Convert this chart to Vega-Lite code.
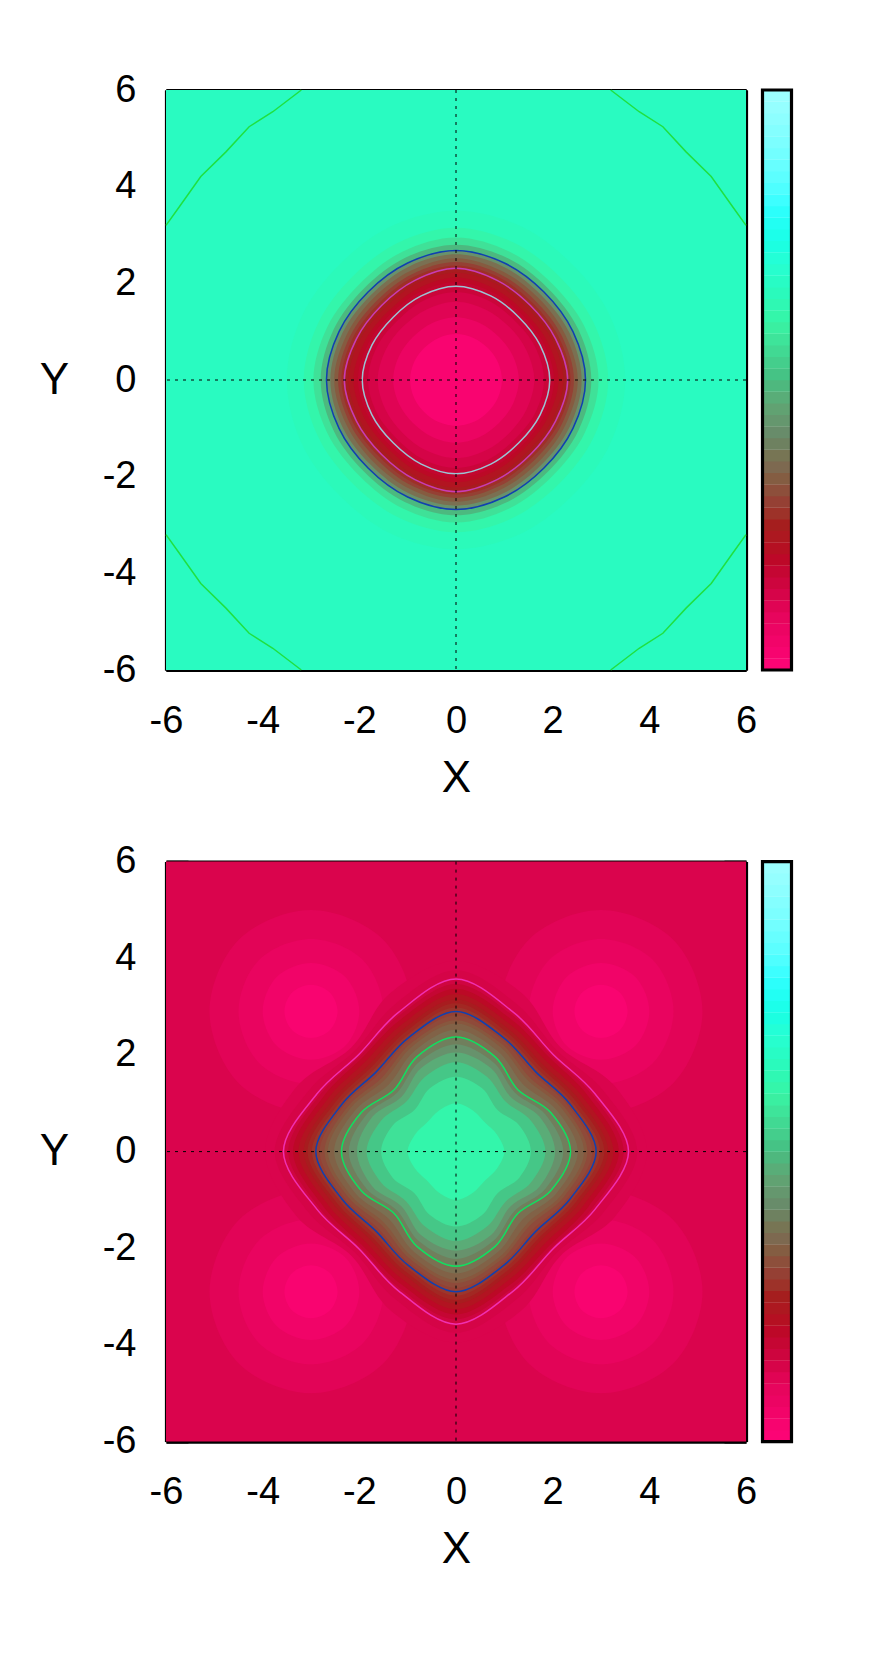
{"$schema":"https://vega.github.io/schema/vega-lite/v6.json","background":"white","padding":{"left":39,"top":71,"right":0,"bottom":0},"config":{"font":"Liberation Sans","view":{"stroke":null},"axis":{"labelFont":"Liberation Sans","titleFont":"Liberation Sans","labelFontSize":38,"titleFontSize":44,"titleFontWeight":"normal","labelColor":"black","titleColor":"black","tickColor":"black","domainColor":"black","tickWidth":2.8,"domainWidth":3.2,"grid":false,"labelFlush":false,"labelOverlap":false,"labelBound":false,"zindex":1}},"datasets":{"p1":[
{"v":0.97,"x":3.5,"y":0},{"v":0.97,"x":3.19,"y":1.32},{"v":0.97,"x":2.4,"y":2.4},{"v":0.97,"x":1.32,"y":3.19},{"v":0.97,"x":0,"y":3.5},{"v":0.97,"x":-1.32,"y":3.19},{"v":0.97,"x":-2.4,"y":2.4},{"v":0.97,"x":-3.19,"y":1.32},{"v":0.97,"x":-3.5,"y":0},{"v":0.97,"x":-3.19,"y":-1.32},{"v":0.97,"x":-2.4,"y":-2.4},{"v":0.97,"x":-1.32,"y":-3.19},{"v":0.97,"x":0,"y":-3.5},{"v":0.97,"x":1.32,"y":-3.19},{"v":0.97,"x":2.4,"y":-2.4},{"v":0.97,"x":3.19,"y":-1.32},
{"v":0.9,"x":3.15,"y":0},{"v":0.9,"x":2.85,"y":1.18},{"v":0.9,"x":2.14,"y":2.14},{"v":0.9,"x":1.18,"y":2.85},{"v":0.9,"x":0,"y":3.15},{"v":0.9,"x":-1.18,"y":2.85},{"v":0.9,"x":-2.14,"y":2.14},{"v":0.9,"x":-2.85,"y":1.18},{"v":0.9,"x":-3.15,"y":0},{"v":0.9,"x":-2.85,"y":-1.18},{"v":0.9,"x":-2.14,"y":-2.14},{"v":0.9,"x":-1.18,"y":-2.85},{"v":0.9,"x":0,"y":-3.15},{"v":0.9,"x":1.18,"y":-2.85},{"v":0.9,"x":2.14,"y":-2.14},{"v":0.9,"x":2.85,"y":-1.18},
{"v":0.8,"x":2.95,"y":0},{"v":0.8,"x":2.66,"y":1.1},{"v":0.8,"x":1.99,"y":1.99},{"v":0.8,"x":1.1,"y":2.66},{"v":0.8,"x":0,"y":2.95},{"v":0.8,"x":-1.1,"y":2.66},{"v":0.8,"x":-1.99,"y":1.99},{"v":0.8,"x":-2.66,"y":1.1},{"v":0.8,"x":-2.95,"y":0},{"v":0.8,"x":-2.66,"y":-1.1},{"v":0.8,"x":-1.99,"y":-1.99},{"v":0.8,"x":-1.1,"y":-2.66},{"v":0.8,"x":0,"y":-2.95},{"v":0.8,"x":1.1,"y":-2.66},{"v":0.8,"x":1.99,"y":-1.99},{"v":0.8,"x":2.66,"y":-1.1},
{"v":0.65,"x":2.8,"y":0},{"v":0.65,"x":2.53,"y":1.05},{"v":0.65,"x":1.9,"y":1.9},{"v":0.65,"x":1.05,"y":2.53},{"v":0.65,"x":0,"y":2.8},{"v":0.65,"x":-1.05,"y":2.53},{"v":0.65,"x":-1.9,"y":1.9},{"v":0.65,"x":-2.53,"y":1.05},{"v":0.65,"x":-2.8,"y":0},{"v":0.65,"x":-2.53,"y":-1.05},{"v":0.65,"x":-1.9,"y":-1.9},{"v":0.65,"x":-1.05,"y":-2.53},{"v":0.65,"x":0,"y":-2.8},{"v":0.65,"x":1.05,"y":-2.53},{"v":0.65,"x":1.9,"y":-1.9},{"v":0.65,"x":2.53,"y":-1.05},
{"v":0.5,"x":2.68,"y":0},{"v":0.5,"x":2.42,"y":1},{"v":0.5,"x":1.82,"y":1.82},{"v":0.5,"x":1,"y":2.42},{"v":0.5,"x":0,"y":2.68},{"v":0.5,"x":-1,"y":2.42},{"v":0.5,"x":-1.82,"y":1.82},{"v":0.5,"x":-2.42,"y":1},{"v":0.5,"x":-2.68,"y":0},{"v":0.5,"x":-2.42,"y":-1},{"v":0.5,"x":-1.82,"y":-1.82},{"v":0.5,"x":-1,"y":-2.42},{"v":0.5,"x":0,"y":-2.68},{"v":0.5,"x":1,"y":-2.42},{"v":0.5,"x":1.82,"y":-1.82},{"v":0.5,"x":2.42,"y":-1},
{"v":0.3,"x":2.6,"y":0},{"v":0.3,"x":2.35,"y":0.97},{"v":0.3,"x":1.76,"y":1.76},{"v":0.3,"x":0.97,"y":2.35},{"v":0.3,"x":0,"y":2.6},{"v":0.3,"x":-0.97,"y":2.35},{"v":0.3,"x":-1.76,"y":1.76},{"v":0.3,"x":-2.35,"y":0.97},{"v":0.3,"x":-2.6,"y":0},{"v":0.3,"x":-2.35,"y":-0.97},{"v":0.3,"x":-1.76,"y":-1.76},{"v":0.3,"x":-0.97,"y":-2.35},{"v":0.3,"x":0,"y":-2.6},{"v":0.3,"x":0.97,"y":-2.35},{"v":0.3,"x":1.76,"y":-1.76},{"v":0.3,"x":2.35,"y":-0.97},
{"v":0.15,"x":2.52,"y":0},{"v":0.15,"x":2.26,"y":0.94},{"v":0.15,"x":1.7,"y":1.7},{"v":0.15,"x":0.94,"y":2.26},{"v":0.15,"x":0,"y":2.52},{"v":0.15,"x":-0.94,"y":2.26},{"v":0.15,"x":-1.7,"y":1.7},{"v":0.15,"x":-2.26,"y":0.94},{"v":0.15,"x":-2.52,"y":0},{"v":0.15,"x":-2.26,"y":-0.94},{"v":0.15,"x":-1.7,"y":-1.7},{"v":0.15,"x":-0.94,"y":-2.26},{"v":0.15,"x":0,"y":-2.52},{"v":0.15,"x":0.94,"y":-2.26},{"v":0.15,"x":1.7,"y":-1.7},{"v":0.15,"x":2.26,"y":-0.94},
{"v":0,"x":2.44,"y":0},{"v":0,"x":2.19,"y":0.91},{"v":0,"x":1.64,"y":1.64},{"v":0,"x":0.91,"y":2.19},{"v":0,"x":0,"y":2.44},{"v":0,"x":-0.91,"y":2.19},{"v":0,"x":-1.64,"y":1.64},{"v":0,"x":-2.19,"y":0.91},{"v":0,"x":-2.44,"y":0},{"v":0,"x":-2.19,"y":-0.91},{"v":0,"x":-1.64,"y":-1.64},{"v":0,"x":-0.91,"y":-2.19},{"v":0,"x":0,"y":-2.44},{"v":0,"x":0.91,"y":-2.19},{"v":0,"x":1.64,"y":-1.64},{"v":0,"x":2.19,"y":-0.91},
{"v":-0.1,"x":2.37,"y":0},{"v":-0.1,"x":2.13,"y":0.88},{"v":-0.1,"x":1.59,"y":1.59},{"v":-0.1,"x":0.88,"y":2.13},{"v":-0.1,"x":0,"y":2.37},{"v":-0.1,"x":-0.88,"y":2.13},{"v":-0.1,"x":-1.59,"y":1.59},{"v":-0.1,"x":-2.13,"y":0.88},{"v":-0.1,"x":-2.37,"y":0},{"v":-0.1,"x":-2.13,"y":-0.88},{"v":-0.1,"x":-1.59,"y":-1.59},{"v":-0.1,"x":-0.88,"y":-2.13},{"v":-0.1,"x":0,"y":-2.37},{"v":-0.1,"x":0.88,"y":-2.13},{"v":-0.1,"x":1.59,"y":-1.59},{"v":-0.1,"x":2.13,"y":-0.88},
{"v":-0.2,"x":2.31,"y":0},{"v":-0.2,"x":2.06,"y":0.85},{"v":-0.2,"x":1.54,"y":1.54},{"v":-0.2,"x":0.85,"y":2.06},{"v":-0.2,"x":0,"y":2.31},{"v":-0.2,"x":-0.85,"y":2.06},{"v":-0.2,"x":-1.54,"y":1.54},{"v":-0.2,"x":-2.06,"y":0.85},{"v":-0.2,"x":-2.31,"y":0},{"v":-0.2,"x":-2.06,"y":-0.85},{"v":-0.2,"x":-1.54,"y":-1.54},{"v":-0.2,"x":-0.85,"y":-2.06},{"v":-0.2,"x":0,"y":-2.31},{"v":-0.2,"x":0.85,"y":-2.06},{"v":-0.2,"x":1.54,"y":-1.54},{"v":-0.2,"x":2.06,"y":-0.85},
{"v":-0.3,"x":2.22,"y":0},{"v":-0.3,"x":1.99,"y":0.82},{"v":-0.3,"x":1.48,"y":1.48},{"v":-0.3,"x":0.82,"y":1.99},{"v":-0.3,"x":0,"y":2.22},{"v":-0.3,"x":-0.82,"y":1.99},{"v":-0.3,"x":-1.48,"y":1.48},{"v":-0.3,"x":-1.99,"y":0.82},{"v":-0.3,"x":-2.22,"y":0},{"v":-0.3,"x":-1.99,"y":-0.82},{"v":-0.3,"x":-1.48,"y":-1.48},{"v":-0.3,"x":-0.82,"y":-1.99},{"v":-0.3,"x":0,"y":-2.22},{"v":-0.3,"x":0.82,"y":-1.99},{"v":-0.3,"x":1.48,"y":-1.48},{"v":-0.3,"x":1.99,"y":-0.82},
{"v":-0.4,"x":2.12,"y":0},{"v":-0.4,"x":1.89,"y":0.79},{"v":-0.4,"x":1.41,"y":1.41},{"v":-0.4,"x":0.79,"y":1.89},{"v":-0.4,"x":0,"y":2.12},{"v":-0.4,"x":-0.79,"y":1.89},{"v":-0.4,"x":-1.41,"y":1.41},{"v":-0.4,"x":-1.89,"y":0.79},{"v":-0.4,"x":-2.12,"y":0},{"v":-0.4,"x":-1.89,"y":-0.79},{"v":-0.4,"x":-1.41,"y":-1.41},{"v":-0.4,"x":-0.79,"y":-1.89},{"v":-0.4,"x":0,"y":-2.12},{"v":-0.4,"x":0.79,"y":-1.89},{"v":-0.4,"x":1.41,"y":-1.41},{"v":-0.4,"x":1.89,"y":-0.79},
{"v":-0.47,"x":2.03,"y":0},{"v":-0.47,"x":1.82,"y":0.75},{"v":-0.47,"x":1.36,"y":1.36},{"v":-0.47,"x":0.75,"y":1.82},{"v":-0.47,"x":0,"y":2.03},{"v":-0.47,"x":-0.75,"y":1.82},{"v":-0.47,"x":-1.36,"y":1.36},{"v":-0.47,"x":-1.82,"y":0.75},{"v":-0.47,"x":-2.03,"y":0},{"v":-0.47,"x":-1.82,"y":-0.75},{"v":-0.47,"x":-1.36,"y":-1.36},{"v":-0.47,"x":-0.75,"y":-1.82},{"v":-0.47,"x":0,"y":-2.03},{"v":-0.47,"x":0.75,"y":-1.82},{"v":-0.47,"x":1.36,"y":-1.36},{"v":-0.47,"x":1.82,"y":-0.75},
{"v":-0.55,"x":1.94,"y":0},{"v":-0.55,"x":1.74,"y":0.72},{"v":-0.55,"x":1.3,"y":1.3},{"v":-0.55,"x":0.72,"y":1.74},{"v":-0.55,"x":0,"y":1.94},{"v":-0.55,"x":-0.72,"y":1.74},{"v":-0.55,"x":-1.3,"y":1.3},{"v":-0.55,"x":-1.74,"y":0.72},{"v":-0.55,"x":-1.94,"y":0},{"v":-0.55,"x":-1.74,"y":-0.72},{"v":-0.55,"x":-1.3,"y":-1.3},{"v":-0.55,"x":-0.72,"y":-1.74},{"v":-0.55,"x":0,"y":-1.94},{"v":-0.55,"x":0.72,"y":-1.74},{"v":-0.55,"x":1.3,"y":-1.3},{"v":-0.55,"x":1.74,"y":-0.72},
{"v":-0.65,"x":1.82,"y":0},{"v":-0.65,"x":1.64,"y":0.68},{"v":-0.65,"x":1.22,"y":1.22},{"v":-0.65,"x":0.68,"y":1.64},{"v":-0.65,"x":0,"y":1.82},{"v":-0.65,"x":-0.68,"y":1.64},{"v":-0.65,"x":-1.22,"y":1.22},{"v":-0.65,"x":-1.64,"y":0.68},{"v":-0.65,"x":-1.82,"y":0},{"v":-0.65,"x":-1.64,"y":-0.68},{"v":-0.65,"x":-1.22,"y":-1.22},{"v":-0.65,"x":-0.68,"y":-1.64},{"v":-0.65,"x":0,"y":-1.82},{"v":-0.65,"x":0.68,"y":-1.64},{"v":-0.65,"x":1.22,"y":-1.22},{"v":-0.65,"x":1.64,"y":-0.68},
{"v":-0.75,"x":1.62,"y":0},{"v":-0.75,"x":1.46,"y":0.61},{"v":-0.75,"x":1.1,"y":1.1},{"v":-0.75,"x":0.61,"y":1.46},{"v":-0.75,"x":0,"y":1.62},{"v":-0.75,"x":-0.61,"y":1.46},{"v":-0.75,"x":-1.1,"y":1.1},{"v":-0.75,"x":-1.46,"y":0.61},{"v":-0.75,"x":-1.62,"y":0},{"v":-0.75,"x":-1.46,"y":-0.61},{"v":-0.75,"x":-1.1,"y":-1.1},{"v":-0.75,"x":-0.61,"y":-1.46},{"v":-0.75,"x":0,"y":-1.62},{"v":-0.75,"x":0.61,"y":-1.46},{"v":-0.75,"x":1.1,"y":-1.1},{"v":-0.75,"x":1.46,"y":-0.61},
{"v":-0.85,"x":1.3,"y":0},{"v":-0.85,"x":1.18,"y":0.49},{"v":-0.85,"x":0.89,"y":0.89},{"v":-0.85,"x":0.49,"y":1.18},{"v":-0.85,"x":0,"y":1.3},{"v":-0.85,"x":-0.49,"y":1.18},{"v":-0.85,"x":-0.89,"y":0.89},{"v":-0.85,"x":-1.18,"y":0.49},{"v":-0.85,"x":-1.3,"y":0},{"v":-0.85,"x":-1.18,"y":-0.49},{"v":-0.85,"x":-0.89,"y":-0.89},{"v":-0.85,"x":-0.49,"y":-1.18},{"v":-0.85,"x":0,"y":-1.3},{"v":-0.85,"x":0.49,"y":-1.18},{"v":-0.85,"x":0.89,"y":-0.89},{"v":-0.85,"x":1.18,"y":-0.49},
{"v":-0.95,"x":0.95,"y":0},{"v":-0.95,"x":0.87,"y":0.36},{"v":-0.95,"x":0.66,"y":0.66},{"v":-0.95,"x":0.36,"y":0.87},{"v":-0.95,"x":0,"y":0.95},{"v":-0.95,"x":-0.36,"y":0.87},{"v":-0.95,"x":-0.66,"y":0.66},{"v":-0.95,"x":-0.87,"y":0.36},{"v":-0.95,"x":-0.95,"y":0},{"v":-0.95,"x":-0.87,"y":-0.36},{"v":-0.95,"x":-0.66,"y":-0.66},{"v":-0.95,"x":-0.36,"y":-0.87},{"v":-0.95,"x":0,"y":-0.95},{"v":-0.95,"x":0.36,"y":-0.87},{"v":-0.95,"x":0.66,"y":-0.66},{"v":-0.95,"x":0.87,"y":-0.36}
],"p2":[
{"v":-0.77,"q":1,"x":5.1,"y":2.9},{"v":-0.77,"q":1,"x":4.49,"y":4.39},{"v":-0.77,"q":1,"x":3,"y":5},{"v":-0.77,"q":1,"x":1.51,"y":4.39},{"v":-0.77,"q":1,"x":0.9,"y":2.9},{"v":-0.77,"q":1,"x":1.51,"y":1.41},{"v":-0.77,"q":1,"x":3,"y":0.8},{"v":-0.77,"q":1,"x":4.49,"y":1.41},
{"v":-0.77,"q":2,"x":-5.1,"y":2.9},{"v":-0.77,"q":2,"x":-4.49,"y":4.39},{"v":-0.77,"q":2,"x":-3,"y":5},{"v":-0.77,"q":2,"x":-1.51,"y":4.39},{"v":-0.77,"q":2,"x":-0.9,"y":2.9},{"v":-0.77,"q":2,"x":-1.51,"y":1.41},{"v":-0.77,"q":2,"x":-3,"y":0.8},{"v":-0.77,"q":2,"x":-4.49,"y":1.41},
{"v":-0.77,"q":3,"x":-5.1,"y":-2.9},{"v":-0.77,"q":3,"x":-4.49,"y":-4.39},{"v":-0.77,"q":3,"x":-3,"y":-5},{"v":-0.77,"q":3,"x":-1.51,"y":-4.39},{"v":-0.77,"q":3,"x":-0.9,"y":-2.9},{"v":-0.77,"q":3,"x":-1.51,"y":-1.41},{"v":-0.77,"q":3,"x":-3,"y":-0.8},{"v":-0.77,"q":3,"x":-4.49,"y":-1.41},
{"v":-0.77,"q":4,"x":5.1,"y":-2.9},{"v":-0.77,"q":4,"x":4.49,"y":-4.39},{"v":-0.77,"q":4,"x":3,"y":-5},{"v":-0.77,"q":4,"x":1.51,"y":-4.39},{"v":-0.77,"q":4,"x":0.9,"y":-2.9},{"v":-0.77,"q":4,"x":1.51,"y":-1.41},{"v":-0.77,"q":4,"x":3,"y":-0.8},{"v":-0.77,"q":4,"x":4.49,"y":-1.41},
{"v":-0.83,"q":1,"x":4.5,"y":2.9},{"v":-0.83,"q":1,"x":4.07,"y":3.97},{"v":-0.83,"q":1,"x":3,"y":4.4},{"v":-0.83,"q":1,"x":1.93,"y":3.97},{"v":-0.83,"q":1,"x":1.5,"y":2.9},{"v":-0.83,"q":1,"x":1.93,"y":1.83},{"v":-0.83,"q":1,"x":3,"y":1.4},{"v":-0.83,"q":1,"x":4.07,"y":1.83},
{"v":-0.83,"q":2,"x":-4.5,"y":2.9},{"v":-0.83,"q":2,"x":-4.07,"y":3.97},{"v":-0.83,"q":2,"x":-3,"y":4.4},{"v":-0.83,"q":2,"x":-1.93,"y":3.97},{"v":-0.83,"q":2,"x":-1.5,"y":2.9},{"v":-0.83,"q":2,"x":-1.93,"y":1.83},{"v":-0.83,"q":2,"x":-3,"y":1.4},{"v":-0.83,"q":2,"x":-4.07,"y":1.83},
{"v":-0.83,"q":3,"x":-4.5,"y":-2.9},{"v":-0.83,"q":3,"x":-4.07,"y":-3.97},{"v":-0.83,"q":3,"x":-3,"y":-4.4},{"v":-0.83,"q":3,"x":-1.93,"y":-3.97},{"v":-0.83,"q":3,"x":-1.5,"y":-2.9},{"v":-0.83,"q":3,"x":-1.93,"y":-1.83},{"v":-0.83,"q":3,"x":-3,"y":-1.4},{"v":-0.83,"q":3,"x":-4.07,"y":-1.83},
{"v":-0.83,"q":4,"x":4.5,"y":-2.9},{"v":-0.83,"q":4,"x":4.07,"y":-3.97},{"v":-0.83,"q":4,"x":3,"y":-4.4},{"v":-0.83,"q":4,"x":1.93,"y":-3.97},{"v":-0.83,"q":4,"x":1.5,"y":-2.9},{"v":-0.83,"q":4,"x":1.93,"y":-1.83},{"v":-0.83,"q":4,"x":3,"y":-1.4},{"v":-0.83,"q":4,"x":4.07,"y":-1.83},
{"v":-0.89,"q":1,"x":4,"y":2.9},{"v":-0.89,"q":1,"x":3.71,"y":3.61},{"v":-0.89,"q":1,"x":3,"y":3.9},{"v":-0.89,"q":1,"x":2.29,"y":3.61},{"v":-0.89,"q":1,"x":2,"y":2.9},{"v":-0.89,"q":1,"x":2.29,"y":2.19},{"v":-0.89,"q":1,"x":3,"y":1.9},{"v":-0.89,"q":1,"x":3.71,"y":2.19},
{"v":-0.89,"q":2,"x":-4,"y":2.9},{"v":-0.89,"q":2,"x":-3.71,"y":3.61},{"v":-0.89,"q":2,"x":-3,"y":3.9},{"v":-0.89,"q":2,"x":-2.29,"y":3.61},{"v":-0.89,"q":2,"x":-2,"y":2.9},{"v":-0.89,"q":2,"x":-2.29,"y":2.19},{"v":-0.89,"q":2,"x":-3,"y":1.9},{"v":-0.89,"q":2,"x":-3.71,"y":2.19},
{"v":-0.89,"q":3,"x":-4,"y":-2.9},{"v":-0.89,"q":3,"x":-3.71,"y":-3.61},{"v":-0.89,"q":3,"x":-3,"y":-3.9},{"v":-0.89,"q":3,"x":-2.29,"y":-3.61},{"v":-0.89,"q":3,"x":-2,"y":-2.9},{"v":-0.89,"q":3,"x":-2.29,"y":-2.19},{"v":-0.89,"q":3,"x":-3,"y":-1.9},{"v":-0.89,"q":3,"x":-3.71,"y":-2.19},
{"v":-0.89,"q":4,"x":4,"y":-2.9},{"v":-0.89,"q":4,"x":3.71,"y":-3.61},{"v":-0.89,"q":4,"x":3,"y":-3.9},{"v":-0.89,"q":4,"x":2.29,"y":-3.61},{"v":-0.89,"q":4,"x":2,"y":-2.9},{"v":-0.89,"q":4,"x":2.29,"y":-2.19},{"v":-0.89,"q":4,"x":3,"y":-1.9},{"v":-0.89,"q":4,"x":3.71,"y":-2.19},
{"v":-0.95,"q":1,"x":3.55,"y":2.9},{"v":-0.95,"q":1,"x":3.39,"y":3.29},{"v":-0.95,"q":1,"x":3,"y":3.45},{"v":-0.95,"q":1,"x":2.61,"y":3.29},{"v":-0.95,"q":1,"x":2.45,"y":2.9},{"v":-0.95,"q":1,"x":2.61,"y":2.51},{"v":-0.95,"q":1,"x":3,"y":2.35},{"v":-0.95,"q":1,"x":3.39,"y":2.51},
{"v":-0.95,"q":2,"x":-3.55,"y":2.9},{"v":-0.95,"q":2,"x":-3.39,"y":3.29},{"v":-0.95,"q":2,"x":-3,"y":3.45},{"v":-0.95,"q":2,"x":-2.61,"y":3.29},{"v":-0.95,"q":2,"x":-2.45,"y":2.9},{"v":-0.95,"q":2,"x":-2.61,"y":2.51},{"v":-0.95,"q":2,"x":-3,"y":2.35},{"v":-0.95,"q":2,"x":-3.39,"y":2.51},
{"v":-0.95,"q":3,"x":-3.55,"y":-2.9},{"v":-0.95,"q":3,"x":-3.39,"y":-3.29},{"v":-0.95,"q":3,"x":-3,"y":-3.45},{"v":-0.95,"q":3,"x":-2.61,"y":-3.29},{"v":-0.95,"q":3,"x":-2.45,"y":-2.9},{"v":-0.95,"q":3,"x":-2.61,"y":-2.51},{"v":-0.95,"q":3,"x":-3,"y":-2.35},{"v":-0.95,"q":3,"x":-3.39,"y":-2.51},
{"v":-0.95,"q":4,"x":3.55,"y":-2.9},{"v":-0.95,"q":4,"x":3.39,"y":-3.29},{"v":-0.95,"q":4,"x":3,"y":-3.45},{"v":-0.95,"q":4,"x":2.61,"y":-3.29},{"v":-0.95,"q":4,"x":2.45,"y":-2.9},{"v":-0.95,"q":4,"x":2.61,"y":-2.51},{"v":-0.95,"q":4,"x":3,"y":-2.35},{"v":-0.95,"q":4,"x":3.39,"y":-2.51},
{"v":-0.7,"x":3.95,"y":0},{"v":-0.7,"x":3.28,"y":1.36},{"v":-0.7,"x":2.16,"y":2.16},{"v":-0.7,"x":1.36,"y":3.28},{"v":-0.7,"x":0,"y":3.95},{"v":-0.7,"x":-1.36,"y":3.28},{"v":-0.7,"x":-2.16,"y":2.16},{"v":-0.7,"x":-3.28,"y":1.36},{"v":-0.7,"x":-3.95,"y":0},{"v":-0.7,"x":-3.28,"y":-1.36},{"v":-0.7,"x":-2.16,"y":-2.16},{"v":-0.7,"x":-1.36,"y":-3.28},{"v":-0.7,"x":0,"y":-3.95},{"v":-0.7,"x":1.36,"y":-3.28},{"v":-0.7,"x":2.16,"y":-2.16},{"v":-0.7,"x":3.28,"y":-1.36},
{"v":-0.65,"x":3.75,"y":0},{"v":-0.65,"x":3.05,"y":1.26},{"v":-0.65,"x":2.09,"y":2.09},{"v":-0.65,"x":1.26,"y":3.05},{"v":-0.65,"x":0,"y":3.75},{"v":-0.65,"x":-1.26,"y":3.05},{"v":-0.65,"x":-2.09,"y":2.09},{"v":-0.65,"x":-3.05,"y":1.26},{"v":-0.65,"x":-3.75,"y":0},{"v":-0.65,"x":-3.05,"y":-1.26},{"v":-0.65,"x":-2.09,"y":-2.09},{"v":-0.65,"x":-1.26,"y":-3.05},{"v":-0.65,"x":0,"y":-3.75},{"v":-0.65,"x":1.26,"y":-3.05},{"v":-0.65,"x":2.09,"y":-2.09},{"v":-0.65,"x":3.05,"y":-1.26},
{"v":-0.6,"x":3.57,"y":0},{"v":-0.6,"x":2.88,"y":1.19},{"v":-0.6,"x":2.01,"y":2.01},{"v":-0.6,"x":1.19,"y":2.88},{"v":-0.6,"x":0,"y":3.57},{"v":-0.6,"x":-1.19,"y":2.88},{"v":-0.6,"x":-2.01,"y":2.01},{"v":-0.6,"x":-2.88,"y":1.19},{"v":-0.6,"x":-3.57,"y":0},{"v":-0.6,"x":-2.88,"y":-1.19},{"v":-0.6,"x":-2.01,"y":-2.01},{"v":-0.6,"x":-1.19,"y":-2.88},{"v":-0.6,"x":0,"y":-3.57},{"v":-0.6,"x":1.19,"y":-2.88},{"v":-0.6,"x":2.01,"y":-2.01},{"v":-0.6,"x":2.88,"y":-1.19},
{"v":-0.5,"x":3.47,"y":0},{"v":-0.5,"x":2.82,"y":1.17},{"v":-0.5,"x":1.98,"y":1.98},{"v":-0.5,"x":1.17,"y":2.82},{"v":-0.5,"x":0,"y":3.47},{"v":-0.5,"x":-1.17,"y":2.82},{"v":-0.5,"x":-1.98,"y":1.98},{"v":-0.5,"x":-2.82,"y":1.17},{"v":-0.5,"x":-3.47,"y":0},{"v":-0.5,"x":-2.82,"y":-1.17},{"v":-0.5,"x":-1.98,"y":-1.98},{"v":-0.5,"x":-1.17,"y":-2.82},{"v":-0.5,"x":0,"y":-3.47},{"v":-0.5,"x":1.17,"y":-2.82},{"v":-0.5,"x":1.98,"y":-1.98},{"v":-0.5,"x":2.82,"y":-1.17},
{"v":-0.4,"x":3.37,"y":0},{"v":-0.4,"x":2.74,"y":1.14},{"v":-0.4,"x":1.94,"y":1.94},{"v":-0.4,"x":1.14,"y":2.74},{"v":-0.4,"x":0,"y":3.37},{"v":-0.4,"x":-1.14,"y":2.74},{"v":-0.4,"x":-1.94,"y":1.94},{"v":-0.4,"x":-2.74,"y":1.14},{"v":-0.4,"x":-3.37,"y":0},{"v":-0.4,"x":-2.74,"y":-1.14},{"v":-0.4,"x":-1.94,"y":-1.94},{"v":-0.4,"x":-1.14,"y":-2.74},{"v":-0.4,"x":0,"y":-3.37},{"v":-0.4,"x":1.14,"y":-2.74},{"v":-0.4,"x":1.94,"y":-1.94},{"v":-0.4,"x":2.74,"y":-1.14},
{"v":-0.3,"x":3.26,"y":0},{"v":-0.3,"x":2.65,"y":1.1},{"v":-0.3,"x":1.87,"y":1.87},{"v":-0.3,"x":1.1,"y":2.65},{"v":-0.3,"x":0,"y":3.26},{"v":-0.3,"x":-1.1,"y":2.65},{"v":-0.3,"x":-1.87,"y":1.87},{"v":-0.3,"x":-2.65,"y":1.1},{"v":-0.3,"x":-3.26,"y":0},{"v":-0.3,"x":-2.65,"y":-1.1},{"v":-0.3,"x":-1.87,"y":-1.87},{"v":-0.3,"x":-1.1,"y":-2.65},{"v":-0.3,"x":0,"y":-3.26},{"v":-0.3,"x":1.1,"y":-2.65},{"v":-0.3,"x":1.87,"y":-1.87},{"v":-0.3,"x":2.65,"y":-1.1},
{"v":-0.2,"x":3.15,"y":0},{"v":-0.2,"x":2.56,"y":1.06},{"v":-0.2,"x":1.8,"y":1.8},{"v":-0.2,"x":1.06,"y":2.56},{"v":-0.2,"x":0,"y":3.15},{"v":-0.2,"x":-1.06,"y":2.56},{"v":-0.2,"x":-1.8,"y":1.8},{"v":-0.2,"x":-2.56,"y":1.06},{"v":-0.2,"x":-3.15,"y":0},{"v":-0.2,"x":-2.56,"y":-1.06},{"v":-0.2,"x":-1.8,"y":-1.8},{"v":-0.2,"x":-1.06,"y":-2.56},{"v":-0.2,"x":0,"y":-3.15},{"v":-0.2,"x":1.06,"y":-2.56},{"v":-0.2,"x":1.8,"y":-1.8},{"v":-0.2,"x":2.56,"y":-1.06},
{"v":-0.13,"x":3.07,"y":0},{"v":-0.13,"x":2.49,"y":1.03},{"v":-0.13,"x":1.75,"y":1.75},{"v":-0.13,"x":1.03,"y":2.49},{"v":-0.13,"x":0,"y":3.07},{"v":-0.13,"x":-1.03,"y":2.49},{"v":-0.13,"x":-1.75,"y":1.75},{"v":-0.13,"x":-2.49,"y":1.03},{"v":-0.13,"x":-3.07,"y":0},{"v":-0.13,"x":-2.49,"y":-1.03},{"v":-0.13,"x":-1.75,"y":-1.75},{"v":-0.13,"x":-1.03,"y":-2.49},{"v":-0.13,"x":0,"y":-3.07},{"v":-0.13,"x":1.03,"y":-2.49},{"v":-0.13,"x":1.75,"y":-1.75},{"v":-0.13,"x":2.49,"y":-1.03},
{"v":-0.06,"x":2.98,"y":0},{"v":-0.06,"x":2.42,"y":1},{"v":-0.06,"x":1.7,"y":1.7},{"v":-0.06,"x":1,"y":2.42},{"v":-0.06,"x":0,"y":2.98},{"v":-0.06,"x":-1,"y":2.42},{"v":-0.06,"x":-1.7,"y":1.7},{"v":-0.06,"x":-2.42,"y":1},{"v":-0.06,"x":-2.98,"y":0},{"v":-0.06,"x":-2.42,"y":-1},{"v":-0.06,"x":-1.7,"y":-1.7},{"v":-0.06,"x":-1,"y":-2.42},{"v":-0.06,"x":0,"y":-2.98},{"v":-0.06,"x":1,"y":-2.42},{"v":-0.06,"x":1.7,"y":-1.7},{"v":-0.06,"x":2.42,"y":-1},
{"v":0,"x":2.9,"y":0},{"v":0,"x":2.36,"y":0.98},{"v":0,"x":1.65,"y":1.65},{"v":0,"x":0.98,"y":2.36},{"v":0,"x":0,"y":2.9},{"v":0,"x":-0.98,"y":2.36},{"v":0,"x":-1.65,"y":1.65},{"v":0,"x":-2.36,"y":0.98},{"v":0,"x":-2.9,"y":0},{"v":0,"x":-2.36,"y":-0.98},{"v":0,"x":-1.65,"y":-1.65},{"v":0,"x":-0.98,"y":-2.36},{"v":0,"x":0,"y":-2.9},{"v":0,"x":0.98,"y":-2.36},{"v":0,"x":1.65,"y":-1.65},{"v":0,"x":2.36,"y":-0.98},
{"v":0.06,"x":2.82,"y":0},{"v":0.06,"x":2.31,"y":0.96},{"v":0.06,"x":1.6,"y":1.6},{"v":0.06,"x":0.96,"y":2.31},{"v":0.06,"x":0,"y":2.82},{"v":0.06,"x":-0.96,"y":2.31},{"v":0.06,"x":-1.6,"y":1.6},{"v":0.06,"x":-2.31,"y":0.96},{"v":0.06,"x":-2.82,"y":0},{"v":0.06,"x":-2.31,"y":-0.96},{"v":0.06,"x":-1.6,"y":-1.6},{"v":0.06,"x":-0.96,"y":-2.31},{"v":0.06,"x":0,"y":-2.82},{"v":0.06,"x":0.96,"y":-2.31},{"v":0.06,"x":1.6,"y":-1.6},{"v":0.06,"x":2.31,"y":-0.96},
{"v":0.13,"x":2.72,"y":0},{"v":0.13,"x":2.24,"y":0.93},{"v":0.13,"x":1.53,"y":1.53},{"v":0.13,"x":0.93,"y":2.24},{"v":0.13,"x":0,"y":2.72},{"v":0.13,"x":-0.93,"y":2.24},{"v":0.13,"x":-1.53,"y":1.53},{"v":0.13,"x":-2.24,"y":0.93},{"v":0.13,"x":-2.72,"y":0},{"v":0.13,"x":-2.24,"y":-0.93},{"v":0.13,"x":-1.53,"y":-1.53},{"v":0.13,"x":-0.93,"y":-2.24},{"v":0.13,"x":0,"y":-2.72},{"v":0.13,"x":0.93,"y":-2.24},{"v":0.13,"x":1.53,"y":-1.53},{"v":0.13,"x":2.24,"y":-0.93},
{"v":0.2,"x":2.65,"y":0},{"v":0.2,"x":2.18,"y":0.9},{"v":0.2,"x":1.48,"y":1.48},{"v":0.2,"x":0.9,"y":2.18},{"v":0.2,"x":0,"y":2.65},{"v":0.2,"x":-0.9,"y":2.18},{"v":0.2,"x":-1.48,"y":1.48},{"v":0.2,"x":-2.18,"y":0.9},{"v":0.2,"x":-2.65,"y":0},{"v":0.2,"x":-2.18,"y":-0.9},{"v":0.2,"x":-1.48,"y":-1.48},{"v":0.2,"x":-0.9,"y":-2.18},{"v":0.2,"x":0,"y":-2.65},{"v":0.2,"x":0.9,"y":-2.18},{"v":0.2,"x":1.48,"y":-1.48},{"v":0.2,"x":2.18,"y":-0.9},
{"v":0.3,"x":2.52,"y":0},{"v":0.3,"x":2.08,"y":0.86},{"v":0.3,"x":1.39,"y":1.39},{"v":0.3,"x":0.86,"y":2.08},{"v":0.3,"x":0,"y":2.52},{"v":0.3,"x":-0.86,"y":2.08},{"v":0.3,"x":-1.39,"y":1.39},{"v":0.3,"x":-2.08,"y":0.86},{"v":0.3,"x":-2.52,"y":0},{"v":0.3,"x":-2.08,"y":-0.86},{"v":0.3,"x":-1.39,"y":-1.39},{"v":0.3,"x":-0.86,"y":-2.08},{"v":0.3,"x":0,"y":-2.52},{"v":0.3,"x":0.86,"y":-2.08},{"v":0.3,"x":1.39,"y":-1.39},{"v":0.3,"x":2.08,"y":-0.86},
{"v":0.4,"x":2.37,"y":0},{"v":0.4,"x":1.96,"y":0.81},{"v":0.4,"x":1.28,"y":1.28},{"v":0.4,"x":0.81,"y":1.96},{"v":0.4,"x":0,"y":2.37},{"v":0.4,"x":-0.81,"y":1.96},{"v":0.4,"x":-1.28,"y":1.28},{"v":0.4,"x":-1.96,"y":0.81},{"v":0.4,"x":-2.37,"y":0},{"v":0.4,"x":-1.96,"y":-0.81},{"v":0.4,"x":-1.28,"y":-1.28},{"v":0.4,"x":-0.81,"y":-1.96},{"v":0.4,"x":0,"y":-2.37},{"v":0.4,"x":0.81,"y":-1.96},{"v":0.4,"x":1.28,"y":-1.28},{"v":0.4,"x":1.96,"y":-0.81},
{"v":0.5,"x":2.22,"y":0},{"v":0.5,"x":1.85,"y":0.77},{"v":0.5,"x":1.22,"y":1.22},{"v":0.5,"x":0.77,"y":1.85},{"v":0.5,"x":0,"y":2.22},{"v":0.5,"x":-0.77,"y":1.85},{"v":0.5,"x":-1.22,"y":1.22},{"v":0.5,"x":-1.85,"y":0.77},{"v":0.5,"x":-2.22,"y":0},{"v":0.5,"x":-1.85,"y":-0.77},{"v":0.5,"x":-1.22,"y":-1.22},{"v":0.5,"x":-0.77,"y":-1.85},{"v":0.5,"x":0,"y":-2.22},{"v":0.5,"x":0.77,"y":-1.85},{"v":0.5,"x":1.22,"y":-1.22},{"v":0.5,"x":1.85,"y":-0.77},
{"v":0.6,"x":2.05,"y":0},{"v":0.6,"x":1.73,"y":0.72},{"v":0.6,"x":1.13,"y":1.13},{"v":0.6,"x":0.72,"y":1.73},{"v":0.6,"x":0,"y":2.05},{"v":0.6,"x":-0.72,"y":1.73},{"v":0.6,"x":-1.13,"y":1.13},{"v":0.6,"x":-1.73,"y":0.72},{"v":0.6,"x":-2.05,"y":0},{"v":0.6,"x":-1.73,"y":-0.72},{"v":0.6,"x":-1.13,"y":-1.13},{"v":0.6,"x":-0.72,"y":-1.73},{"v":0.6,"x":0,"y":-2.05},{"v":0.6,"x":0.72,"y":-1.73},{"v":0.6,"x":1.13,"y":-1.13},{"v":0.6,"x":1.73,"y":-0.72},
{"v":0.7,"x":1.85,"y":0},{"v":0.7,"x":1.55,"y":0.64},{"v":0.7,"x":1.03,"y":1.03},{"v":0.7,"x":0.64,"y":1.55},{"v":0.7,"x":0,"y":1.85},{"v":0.7,"x":-0.64,"y":1.55},{"v":0.7,"x":-1.03,"y":1.03},{"v":0.7,"x":-1.55,"y":0.64},{"v":0.7,"x":-1.85,"y":0},{"v":0.7,"x":-1.55,"y":-0.64},{"v":0.7,"x":-1.03,"y":-1.03},{"v":0.7,"x":-0.64,"y":-1.55},{"v":0.7,"x":0,"y":-1.85},{"v":0.7,"x":0.64,"y":-1.55},{"v":0.7,"x":1.03,"y":-1.03},{"v":0.7,"x":1.55,"y":-0.64},
{"v":0.8,"x":1.55,"y":0},{"v":0.8,"x":1.31,"y":0.54},{"v":0.8,"x":0.86,"y":0.86},{"v":0.8,"x":0.54,"y":1.31},{"v":0.8,"x":0,"y":1.55},{"v":0.8,"x":-0.54,"y":1.31},{"v":0.8,"x":-0.86,"y":0.86},{"v":0.8,"x":-1.31,"y":0.54},{"v":0.8,"x":-1.55,"y":0},{"v":0.8,"x":-1.31,"y":-0.54},{"v":0.8,"x":-0.86,"y":-0.86},{"v":0.8,"x":-0.54,"y":-1.31},{"v":0.8,"x":0,"y":-1.55},{"v":0.8,"x":0.54,"y":-1.31},{"v":0.8,"x":0.86,"y":-0.86},{"v":0.8,"x":1.31,"y":-0.54},
{"v":0.9,"x":1,"y":0},{"v":0.9,"x":0.85,"y":0.35},{"v":0.9,"x":0.6,"y":0.6},{"v":0.9,"x":0.35,"y":0.85},{"v":0.9,"x":0,"y":1},{"v":0.9,"x":-0.35,"y":0.85},{"v":0.9,"x":-0.6,"y":0.6},{"v":0.9,"x":-0.85,"y":0.35},{"v":0.9,"x":-1,"y":0},{"v":0.9,"x":-0.85,"y":-0.35},{"v":0.9,"x":-0.6,"y":-0.6},{"v":0.9,"x":-0.35,"y":-0.85},{"v":0.9,"x":0,"y":-1},{"v":0.9,"x":0.35,"y":-0.85},{"v":0.9,"x":0.6,"y":-0.6},{"v":0.9,"x":0.85,"y":-0.35}
],"corners":[
{"s":1,"x":-6,"y":3.2},{"s":1,"x":-5.72,"y":3.59},{"s":1,"x":-5.28,"y":4.21},{"s":1,"x":-4.76,"y":4.72},{"s":1,"x":-4.28,"y":5.24},{"s":1,"x":-3.79,"y":5.55},{"s":1,"x":-3.2,"y":6},
{"s":2,"x":3.2,"y":6},{"s":2,"x":3.79,"y":5.55},{"s":2,"x":4.28,"y":5.24},{"s":2,"x":4.76,"y":4.72},{"s":2,"x":5.28,"y":4.21},{"s":2,"x":5.72,"y":3.59},{"s":2,"x":6,"y":3.2},
{"s":3,"x":-6,"y":-3.2},{"s":3,"x":-5.72,"y":-3.59},{"s":3,"x":-5.28,"y":-4.21},{"s":3,"x":-4.76,"y":-4.72},{"s":3,"x":-4.28,"y":-5.24},{"s":3,"x":-3.79,"y":-5.55},{"s":3,"x":-3.2,"y":-6},
{"s":4,"x":3.2,"y":-6},{"s":4,"x":3.79,"y":-5.55},{"s":4,"x":4.28,"y":-5.24},{"s":4,"x":4.76,"y":-4.72},{"s":4,"x":5.28,"y":-4.21},{"s":4,"x":5.72,"y":-3.59},{"s":4,"x":6,"y":-3.2}
],"bar1":[{"v":-0.975},{"v":-0.925},{"v":-0.875},{"v":-0.825},{"v":-0.775},{"v":-0.725},{"v":-0.675},{"v":-0.625},{"v":-0.575},{"v":-0.525},{"v":-0.475},{"v":-0.425},{"v":-0.375},{"v":-0.325},{"v":-0.275},{"v":-0.225},{"v":-0.175},{"v":-0.125},{"v":-0.075},{"v":-0.025},{"v":0.025},{"v":0.075},{"v":0.125},{"v":0.175},{"v":0.225},{"v":0.275},{"v":0.325},{"v":0.375},{"v":0.425},{"v":0.475},{"v":0.525},{"v":0.575},{"v":0.625},{"v":0.675},{"v":0.725},{"v":0.775},{"v":0.825},{"v":0.875},{"v":0.925},{"v":0.975},{"v":1.025},{"v":1.075},{"v":1.125},{"v":1.175},{"v":1.225},{"v":1.275},{"v":1.325},{"v":1.375},{"v":1.425},{"v":1.475}],"bar2":[{"v":-0.98},{"v":-0.94},{"v":-0.9},{"v":-0.86},{"v":-0.82},{"v":-0.78},{"v":-0.74},{"v":-0.7},{"v":-0.66},{"v":-0.62},{"v":-0.58},{"v":-0.54},{"v":-0.5},{"v":-0.46},{"v":-0.42},{"v":-0.38},{"v":-0.34},{"v":-0.3},{"v":-0.26},{"v":-0.22},{"v":-0.18},{"v":-0.14},{"v":-0.1},{"v":-0.06},{"v":-0.02},{"v":0.02},{"v":0.06},{"v":0.1},{"v":0.14},{"v":0.18},{"v":0.22},{"v":0.26},{"v":0.3},{"v":0.34},{"v":0.38},{"v":0.42},{"v":0.46},{"v":0.5},{"v":0.54},{"v":0.58},{"v":0.62},{"v":0.66},{"v":0.7},{"v":0.74},{"v":0.78},{"v":0.82},{"v":0.86},{"v":0.9},{"v":0.94},{"v":0.98}]},"spacing":42.6,"vconcat":[{"spacing":3.5,"hconcat":[{"width":580,"height":580,"resolve":{"axis":{"x":"independent","y":"independent"}},"layer":[{"data":{"values":[{"x":-6,"x2":6,"y":-6,"y2":6,"v":1}]},"mark":"rect","encoding":{"x":{"field":"x","type":"quantitative","scale":{"domain":[-6,6],"nice":false},"axis":{"orient":"bottom","values":[-6,-4,-2,0,2,4,6],"tickSize":-22,"labelPadding":54,"labelExpr":"''+datum.value","title":"X","titleY":108,"titleBaseline":"middle"}},"x2":{"field":"x2"},"y":{"field":"y","type":"quantitative","scale":{"domain":[-6,6],"nice":false},"axis":{"orient":"left","values":[-6,-4,-2,0,2,4,6],"tickSize":-22,"labelPadding":52,"labelExpr":"''+datum.value","title":"Y","titleAngle":0,"titleX":-112,"titleY":290,"titleAlign":"center","titleBaseline":"middle"}},"y2":{"field":"y2"},"fill":{"field":"v","type":"quantitative","legend":null,"scale":{"domain":[-1,-0.75,-0.625,-0.5,-0.375,-0.25,-0.125,0,0.25,0.5,0.75,1,1.5],"range":["#ff0578","#e4055a","#cd053e","#b90a23","#a51e1e","#91463a","#7d6950","#698769","#46be82","#37f5a5","#28ffd2","#32ffff","#a0ffff"]}}}},{"data":{"name":"p1"},"transform":[{"window":[{"op":"row_number","as":"i"}]}],"mark":{"type":"line","interpolate":"cardinal-closed","strokeWidth":0},"encoding":{"x":{"field":"x","type":"quantitative","axis":{"orient":"top","values":[-6,-4,-2,0,2,4,6],"tickSize":-22,"labels":false,"title":null}},"y":{"field":"y","type":"quantitative","axis":{"orient":"right","values":[-6,-4,-2,0,2,4,6],"tickSize":-22,"labels":false,"title":null}},"detail":{"field":"v"},"order":{"field":"i"},"fill":{"field":"v","type":"quantitative","legend":null,"scale":{"domain":[-1,-0.75,-0.625,-0.5,-0.375,-0.25,-0.125,0,0.25,0.5,0.75,1,1.5],"range":["#ff0578","#e4055a","#cd053e","#b90a23","#a51e1e","#91463a","#7d6950","#698769","#46be82","#37f5a5","#28ffd2","#32ffff","#a0ffff"]}}}},{"data":{"name":"p1"},"transform":[{"filter":{"field":"v","oneOf":[-0.55,-0.2,0.5]}},{"window":[{"op":"row_number","as":"i"}]}],"mark":{"type":"line","interpolate":"cardinal-closed","strokeWidth":1.5},"encoding":{"x":{"field":"x","type":"quantitative","axis":null},"y":{"field":"y","type":"quantitative","axis":null},"order":{"field":"i"},"stroke":{"field":"v","type":"nominal","legend":null,"scale":{"domain":[-0.55,-0.2,0.5],"range":["#9cc4d4","#c83cb4","#1040b0"]}}}},{"data":{"name":"corners"},"mark":{"type":"line","color":"#20e040","strokeWidth":1.5},"encoding":{"x":{"field":"x","type":"quantitative","axis":null},"y":{"field":"y","type":"quantitative","axis":null},"detail":{"field":"s"}}},{"data":{"values":[{"z":0}]},"mark":{"type":"rule","color":"black","strokeDash":[3,5],"strokeWidth":1},"encoding":{"x":{"field":"z","type":"quantitative","axis":null}}},{"data":{"values":[{"z":0}]},"mark":{"type":"rule","color":"black","strokeDash":[3,5],"strokeWidth":1},"encoding":{"y":{"field":"z","type":"quantitative","axis":null}}}]},{"width":29,"height":580,"layer":[{"data":{"name":"bar1"},"mark":{"type":"rule","strokeWidth":12,"clip":true},"encoding":{"y":{"field":"v","type":"quantitative","scale":{"domain":[-1,1.5],"nice":false},"axis":{"orient":"right","values":[-1,-0.5,0,0.5,1,1.5],"tickSize":-29,"domain":false,"labelPadding":54,"labelExpr":"(datum.value>=0?'\u00a0':'')+datum.value","title":null}},"stroke":{"field":"v","type":"quantitative","legend":null,"scale":{"domain":[-1,-0.75,-0.625,-0.5,-0.375,-0.25,-0.125,0,0.25,0.5,0.75,1,1.5],"range":["#ff0578","#e4055a","#cd053e","#b90a23","#a51e1e","#91463a","#7d6950","#698769","#46be82","#37f5a5","#28ffd2","#32ffff","#a0ffff"]}}}},{"data":{"values":[{"a":-1,"b":1.5}]},"mark":{"type":"rect","filled":false,"stroke":"black","strokeWidth":3.2},"encoding":{"y":{"field":"a","type":"quantitative","axis":null},"y2":{"field":"b"}}}]}]},{"spacing":3.5,"hconcat":[{"width":580,"height":580,"resolve":{"axis":{"x":"independent","y":"independent"}},"layer":[{"data":{"values":[{"x":-6,"x2":6,"y":-6,"y2":6,"v":-0.7}]},"mark":"rect","encoding":{"x":{"field":"x","type":"quantitative","scale":{"domain":[-6,6],"nice":false},"axis":{"orient":"bottom","values":[-6,-4,-2,0,2,4,6],"tickSize":-22,"labelPadding":54,"labelExpr":"''+datum.value","title":"X","titleY":108,"titleBaseline":"middle"}},"x2":{"field":"x2"},"y":{"field":"y","type":"quantitative","scale":{"domain":[-6,6],"nice":false},"axis":{"orient":"left","values":[-6,-4,-2,0,2,4,6],"tickSize":-22,"labelPadding":52,"labelExpr":"''+datum.value","title":"Y","titleAngle":0,"titleX":-112,"titleY":290,"titleAlign":"center","titleBaseline":"middle"}},"y2":{"field":"y2"},"fill":{"field":"v","type":"quantitative","legend":null,"scale":{"domain":[-1,-0.8,-0.7,-0.6,-0.5,-0.4,-0.3,-0.2,0,0.2,0.4,0.6,1],"range":["#ff0578","#e4055a","#cd053e","#b90a23","#a51e1e","#91463a","#7d6950","#698769","#46be82","#37f5a5","#28ffd2","#32ffff","#a0ffff"]}}}},{"data":{"name":"p2"},"transform":[{"window":[{"op":"row_number","as":"i"}]}],"mark":{"type":"line","interpolate":"cardinal-closed","strokeWidth":0},"encoding":{"x":{"field":"x","type":"quantitative","axis":{"orient":"top","values":[-6,-4,-2,0,2,4,6],"tickSize":-22,"labels":false,"title":null}},"y":{"field":"y","type":"quantitative","axis":{"orient":"right","values":[-6,-4,-2,0,2,4,6],"tickSize":-22,"labels":false,"title":null}},"detail":[{"field":"v"},{"field":"q"}],"order":{"field":"i"},"fill":{"field":"v","type":"quantitative","legend":null,"scale":{"domain":[-1,-0.8,-0.7,-0.6,-0.5,-0.4,-0.3,-0.2,0,0.2,0.4,0.6,1],"range":["#ff0578","#e4055a","#cd053e","#b90a23","#a51e1e","#91463a","#7d6950","#698769","#46be82","#37f5a5","#28ffd2","#32ffff","#a0ffff"]}}}},{"data":{"name":"p2"},"transform":[{"filter":{"field":"v","oneOf":[-0.6,0,0.4]}},{"window":[{"op":"row_number","as":"i"}]}],"mark":{"type":"line","interpolate":"cardinal-closed","strokeWidth":1.5},"encoding":{"x":{"field":"x","type":"quantitative","axis":null},"y":{"field":"y","type":"quantitative","axis":null},"order":{"field":"i"},"stroke":{"field":"v","type":"nominal","legend":null,"scale":{"domain":[-0.6,0,0.4],"range":["#f030b0","#1040b0","#10e060"]}}}},{"data":{"values":[{"z":0}]},"mark":{"type":"rule","color":"black","strokeDash":[3,5],"strokeWidth":1},"encoding":{"x":{"field":"z","type":"quantitative","axis":null}}},{"data":{"values":[{"z":0}]},"mark":{"type":"rule","color":"black","strokeDash":[3,5],"strokeWidth":1},"encoding":{"y":{"field":"z","type":"quantitative","axis":null}}}]},{"width":29,"height":580,"layer":[{"data":{"name":"bar2"},"mark":{"type":"rule","strokeWidth":12,"clip":true},"encoding":{"y":{"field":"v","type":"quantitative","scale":{"domain":[-1,1],"nice":false},"axis":{"orient":"right","values":[-1,-0.8,-0.6,-0.4,-0.2,0,0.2,0.4,0.6,0.8,1],"tickSize":-29,"domain":false,"labelPadding":54,"labelExpr":"(datum.value>=0?'\u00a0':'')+datum.value","title":null}},"stroke":{"field":"v","type":"quantitative","legend":null,"scale":{"domain":[-1,-0.8,-0.7,-0.6,-0.5,-0.4,-0.3,-0.2,0,0.2,0.4,0.6,1],"range":["#ff0578","#e4055a","#cd053e","#b90a23","#a51e1e","#91463a","#7d6950","#698769","#46be82","#37f5a5","#28ffd2","#32ffff","#a0ffff"]}}}},{"data":{"values":[{"a":-1,"b":1}]},"mark":{"type":"rect","filled":false,"stroke":"black","strokeWidth":3.2},"encoding":{"y":{"field":"a","type":"quantitative","axis":null},"y2":{"field":"b"}}}]}]}]}
